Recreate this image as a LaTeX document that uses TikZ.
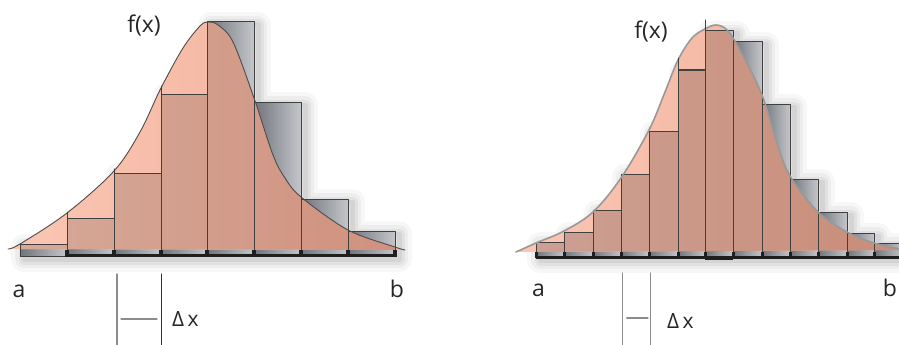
\documentclass[tikz,border=0pt]{standalone}
\usepackage{fontspec}
\setmainfont{Open Sans}
\usetikzlibrary{fadings}

\tikzfading[name=fade sides, left color=transparent!100, middle color=transparent!0, right color=transparent!100]

\tikzset{
  lbl/.style={font=\fontsize{23}{27}\selectfont, text=black!85, inner sep=0pt, anchor=base},
  dxlbl/.style={font=\fontsize{21}{25}\selectfont, text=black!85, inner sep=0pt, anchor=base west},
  barline/.style={draw=black!75, line width=1pt},
  axisline/.style={draw=black!88, line width=3pt, line cap=butt},
  dxline/.style={draw=black!45, line width=1.2pt},
}

\begin{document}
\begin{tikzpicture}[x=1pt, y=-1pt, line join=round, line cap=round]
  \definecolor{cPeach}{RGB}{250,198,180}
  \definecolor{cPeachD}{RGB}{240,176,154}
  \definecolor{cBarL}{RGB}{214,170,154}
  \definecolor{cBarR}{RGB}{208,144,124}
  \definecolor{cBarRL}{RGB}{204,162,150}
  \definecolor{cBarRR}{RGB}{202,140,120}
  \definecolor{cGrayD}{RGB}{112,116,123}
  \definecolor{cGrayL}{RGB}{196,198,202}

  \useasboundingbox (0,0) rectangle (899,345);
  \clip (0,0) rectangle (899,345);

  \newcommand\curveL{plot[smooth, tension=0.55] coordinates {(8,249) (20,244) (67,213) (114,171) (140,132) (161,88) (183,48) (200,26) (208,22) (218,25) (233,42) (254,98) (273,155) (285,178) (301,197) (348,230) (395,247) (405,250)}}
  \newcommand\curveR{plot[smooth, tension=0.55] coordinates {(516,252) (536,243) (564,231) (593,212) (621,178) (649,130) (665,92) (678,60) (692,38) (705,29) (716,25) (727,30) (740,50) (762,95) (776,140) (790,176) (818,212) (847,232) (874,243) (905,250)}}

  % left panel
  \shade[top color=black!28, bottom color=white, path fading=fade sides] (0,257) rectangle (440,300);
  \foreach \w/\o in {26/0.03, 18/0.04, 11/0.05, 5/0.06}
    \draw[line width=\w pt, black, opacity=\o, shift={(4,3)}]
      (20,256) -- (20,244) -- (67,244) -- (67,218) -- (114,218) -- (114,173) -- (161,173) -- (161,94)
      -- (207,94) -- (207,22) -- (254,22) -- (254,102) -- (301,102) -- (301,199) -- (348,199)
      -- (348,231) -- (395,231) -- (395,256) -- cycle;
  \foreach \xa/\xb/\yt in {20/67/244, 67/114/218, 114/161/173, 161/207/94, 207/254/22, 254/301/102, 301/348/199, 348/395/231}
    \shade[left color=cGrayD, right color=cGrayL] (\xa,\yt) rectangle (\xb,256);
  \shade[left color=cPeach, right color=cPeachD] \curveL -- cycle;
  \begin{scope}
    \clip \curveL -- cycle;
    \clip \foreach \xa/\xb/\yt in {20/67/244, 67/114/218, 114/161/173, 161/207/94, 207/254/22, 254/301/102, 301/348/199, 348/395/231}
      {(\xa,\yt) rectangle (\xb,256)};
    \shade[left color=cBarL, right color=cBarR] (0,0) rectangle (420,260);
  \end{scope}
  \foreach \xa/\xb/\yt in {20/67/244, 67/114/218, 114/161/173, 161/207/94, 207/254/22, 254/301/102, 301/348/199, 348/395/231}
    \draw[barline] (\xa,\yt) rectangle (\xb,256);
  \draw[black!70, line width=0.9pt] \curveL;
  \draw[barline] (67,218) -- (67,212) (114,173) -- (114,169) (161,94) -- (161,86);
  \draw[axisline] (67,255.5) -- (395,255.5);
  \foreach \x in {67,114,161,207,254,301,348,395}
    \fill[black!88] (\x-2,250) rectangle (\x+2,257);

  \node[lbl] (fxL) at (144,33) {f(x)};
  \node[lbl] (aL) at (19,297) {a};
  \node[lbl] (bL) at (397,297) {b};
  \draw[dxline] (117,274) -- (117,345);
  \draw[dxline, black!80] (161.7,274) -- (161.7,345);
  \draw[dxline] (121,319) -- (157,319);
  \node[dxlbl] (dxL) at (172,326) {Δ\,x};

  % right panel
  \shade[top color=black!28, bottom color=white, path fading=fade sides] (505,258) rectangle (960,302);
  \foreach \w/\o in {26/0.03, 18/0.04, 11/0.05, 5/0.06}
    \draw[line width=\w pt, black, opacity=\o, shift={(4,3)}]
      (536,257) -- (536,242) -- (564,242) -- (564,232) -- (593,232) -- (593,210) -- (621,210) -- (621,174)
      -- (649,174) -- (649,131) -- (678,131) -- (678,70) -- (705,70) -- (705,31) -- (733,31) -- (733,42)
      -- (762,42) -- (762,104) -- (790,104) -- (790,179) -- (818,179) -- (818,212) -- (847,212)
      -- (847,233) -- (874,233) -- (874,243) -- (903,243) -- (903,257) -- cycle;
  \foreach \xa/\xb/\yt in {536/564/242, 564/593/232, 593/621/210, 621/649/174, 649/678/131, 678/705/70, 705/733/31, 733/762/42, 762/790/104, 790/818/179, 818/847/212, 847/874/233, 874/903/243}
    \shade[left color=cGrayD, right color=cGrayL] (\xa,\yt) rectangle (\xb,257);
  \shade[left color=cPeach, right color=cPeachD] \curveR -- cycle;
  \begin{scope}
    \clip \curveR -- cycle;
    \clip \foreach \xa/\xb/\yt in {536/564/242, 564/593/232, 593/621/210, 621/649/174, 649/678/131, 678/705/70, 705/733/31, 733/762/42, 762/790/104, 790/818/179, 818/847/212, 847/874/233, 874/903/243}
      {(\xa,\yt) rectangle (\xb,257)};
    \shade[left color=cBarRL, right color=cBarRR] (500,0) rectangle (910,260);
  \end{scope}
  \foreach \xa/\xb/\yt in {536/564/242, 564/593/232, 593/621/210, 621/649/174, 649/678/131, 678/705/70, 705/733/31, 733/762/42, 762/790/104, 790/818/179, 818/847/212, 847/874/233, 874/903/243}
    \draw[barline] (\xa,\yt) rectangle (\xb,257);
  \draw[black!40, line width=1.6pt] \curveR;
  \draw[barline] (678,70) -- (678,58) (705,31) -- (705,20);
  \draw[axisline] (536,257) -- (905,257);
  \draw[axisline, line width=4.5pt] (705,258) -- (733,258);
  \foreach \x in {536,564,593,621,649,678,705,733,762,790,818,847,874,903}
    \fill[black!88] (\x-1.5,252) rectangle (\x+1.5,258);

  \node[lbl] (fxR) at (651,39) {f(x)};
  \node[lbl] (aR) at (538.5,296) {a};
  \node[lbl] (bR) at (890,296) {b};
  \draw[dxline] (622.7,273) -- (622.7,345);
  \draw[dxline] (650.7,273) -- (650.7,345);
  \draw[dxline] (626.7,318) -- (648,318);
  \node[dxlbl] (dxR) at (667,328) {Δ\,x};
\end{tikzpicture}
\end{document}
